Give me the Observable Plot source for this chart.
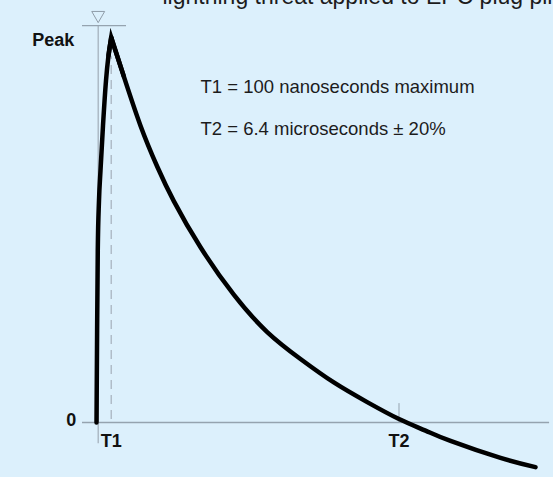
<!DOCTYPE html>
<html><head><meta charset="utf-8">
<script src="https://cdn.jsdelivr.net/npm/d3@7"></script>
<script src="https://cdn.jsdelivr.net/npm/@observablehq/plot@0.6"></script>
<style>
html,body{margin:0;padding:0;background:#dcf0fc;overflow:hidden}
#chart svg{display:block}
</style></head><body><div id="chart"></div>
<script>
// Waveform: time in microseconds, value as a fraction of peak
const riseTime  = [-0.036,-0.023,-0.009,0.017,0.049,0.102,0.166,0.219,0.277];
const riseValue = [0,0.239,0.447,0.577,0.655,0.771,0.888,0.953,1.0];
const decayTime  = [0.277,0.545,0.900,1.255,1.609,2.177,2.885,3.596,4.304,5.013,5.723,6.4,6.964,7.496,8.560,9.304];
const decayValue = [1.0,0.899,0.771,0.665,0.575,0.455,0.332,0.235,0.165,0.104,0.053,0.009,-0.021,-0.048,-0.092,-0.116];

const xTickValues = [0.277, 6.4];
const xTickLabels = ["T1", "T2"];
const yTickValues = [0, 1];
const yTickLabels = ["0", "Peak"];
const notes = ["T1 = 100 nanoseconds maximum", "T2 = 6.4 microseconds ± 20%"];
const noteLevels = [0.855, 0.748];
const titleText = ["lightning threat applied to EPC plug pins"];

const rise = riseTime.map((t, i) => ({t, v: riseValue[i]}));
const decay = decayTime.map((t, i) => ({t, v: decayValue[i]}));
// the sharp tip: last rise points joined to the first decay point
const tip = [rise[rise.length - 2], rise[rise.length - 1], decay[1]];

const gray = "#95a3af";
const font = "'Liberation Sans', Arial, Helvetica, sans-serif";
const waveStyle = {x: "t", y: "v", stroke: "black", strokeWidth: 4.5};

const chart = Plot.plot({
  width: 553,
  height: 477,
  marginLeft: 97.7,
  marginRight: 8.8,
  marginTop: 37,
  marginBottom: 55,
  style: {background: "#dcf0fc", fontFamily: font, overflow: "visible"},
  x: {domain: [0, 9.5], axis: null},
  y: {domain: [0, 1], axis: null},
  marks: [
    // axes
    Plot.ruleY([0], {x1: -0.334, x2: 9.604, stroke: gray, strokeWidth: 1.3}),
    Plot.ruleX([0], {y1: -0.055, y2: 1.031, stroke: "#a5b2bd", strokeWidth: 1.3}),
    Plot.ruleY([1.031], {x1: -0.334, x2: 0.602, stroke: gray, strokeWidth: 1.3}),
    Plot.dot([0], {x: d => d, y: 1.058, symbol: "triangle", rotate: 180, r: 4.8, stroke: "#8f9ca8", strokeWidth: 1, fill: "none"}),
    Plot.ruleX([xTickValues[0]], {y1: 0.008, y2: 0.95, stroke: "#a9b5c0", strokeWidth: 1.3, strokeDasharray: "9,6"}),
    Plot.ruleX([xTickValues[1]], {y1: 0, y2: 0.049, stroke: gray, strokeWidth: 1}),
    // waveform
    Plot.line(rise, {...waveStyle, curve: "monotone-x"}),
    Plot.line(decay, {...waveStyle, curve: "natural"}),
    Plot.line(tip, {...waveStyle, curve: "linear", strokeLinejoin: "miter", strokeMiterlimit: 20}),
    // tick labels
    Plot.text(xTickValues, {x: d => d, y: 0, text: (d, i) => xTickLabels[i], lineAnchor: "top", dy: 12, fontSize: 18, fontWeight: "bold", fill: "#111"}),
    Plot.text([yTickValues[0]], {x: 0, y: d => d, text: [yTickLabels[0]], textAnchor: "end", dx: -22, dy: -2, fontSize: 18, fontWeight: "bold", fill: "#111"}),
    Plot.text([yTickValues[1]], {x: 0, y: d => d, text: [yTickLabels[1]], textAnchor: "end", dx: -24, dy: 3, fontSize: 18, fontWeight: "bold", fill: "#111"}),
    // notes
    Plot.text(notes, {x: 2.177, y: (d, i) => noteLevels[i], text: d => d, textAnchor: "start", lineAnchor: "bottom", fontSize: 18.5, fill: "#1c1c1c"}),
    // title, cut by the top edge as in the reference
    Plot.text(titleText, {x: 1.368, y: 1.086, text: d => d, textAnchor: "start", lineAnchor: "bottom", fontSize: 23, fill: "#1c1c1c"})
  ]
});
document.getElementById("chart").appendChild(chart);
</script>
</body></html>
